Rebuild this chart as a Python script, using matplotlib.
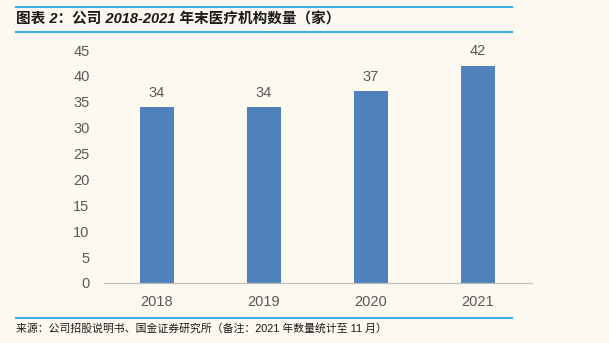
import matplotlib.pyplot as plt
from matplotlib.lines import Line2D

plt.rcParams['font.family'] = ['Liberation Sans', 'Noto Sans CJK SC', 'DejaVu Sans']

# ==========================
# Data
# ==========================

years = ["2018", "2019", "2020", "2021"]
counts = [34, 34, 37, 42]
y_ticks = [0, 5, 10, 15, 20, 25, 30, 35, 40, 45]

title_text = "图表 2：公司 2018-2021 年末医疗机构数量（家）"
source_text = "来源：公司招股说明书、国金证券研究所（备注：2021 年数量统计至 11 月）"

bg = "#fdf9f0"
rule_blue = "#3daee3"
bar_blue = "#4f81bd"
grey = "#595959"

# ==========================
# Figure
# ==========================

fig = plt.figure(figsize=(6.09, 3.43), dpi=100, facecolor=bg)
ax = fig.add_axes([103.5 / 609, 1 - 283 / 343, 428 / 609, 233 / 343])
ax.set_facecolor(bg)

x = range(len(years))
bars = ax.bar(x, counts, width=0.32, color=bar_blue)
for b, v in zip(bars, counts):
    ax.text(b.get_x() + b.get_width() / 2, v + 1.4, str(v),
            ha="center", va="bottom", fontsize=10.5, color=grey)

ax.set_xlim(-0.5, len(years) - 0.5)
ax.set_ylim(0, 45)
ax.set_yticks(y_ticks)
ax.set_xticks(list(x))
ax.set_xticklabels(years)
ax.tick_params(axis="both", length=0, labelsize=10.5, labelcolor=grey)
ax.tick_params(axis="y", pad=10)
ax.tick_params(axis="x", pad=9)

for s in ["top", "right", "left"]:
    ax.spines[s].set_visible(False)
ax.spines["bottom"].set_color("#bfbfbf")
ax.spines["bottom"].set_linewidth(0.9)

# ==========================
# Header and footer rules
# ==========================

def hline(y_px):
    y = 1 - y_px / 343
    fig.add_artist(Line2D([16 / 609, 512 / 609], [y, y],
                          transform=fig.transFigure, color=rule_blue, lw=1.5))

hline(6.5)
hline(32)
hline(318)

fig.text(16 / 609, 1 - 19 / 343, title_text, fontsize=10.5, fontweight="bold",
         fontstyle="italic", color="#1a1a1a", va="center", ha="left")
fig.text(16 / 609, 1 - 329 / 343, source_text, fontsize=7.8, color="#1a1a1a",
         va="center", ha="left")

fig.savefig("out.png", dpi=100, facecolor=bg)
